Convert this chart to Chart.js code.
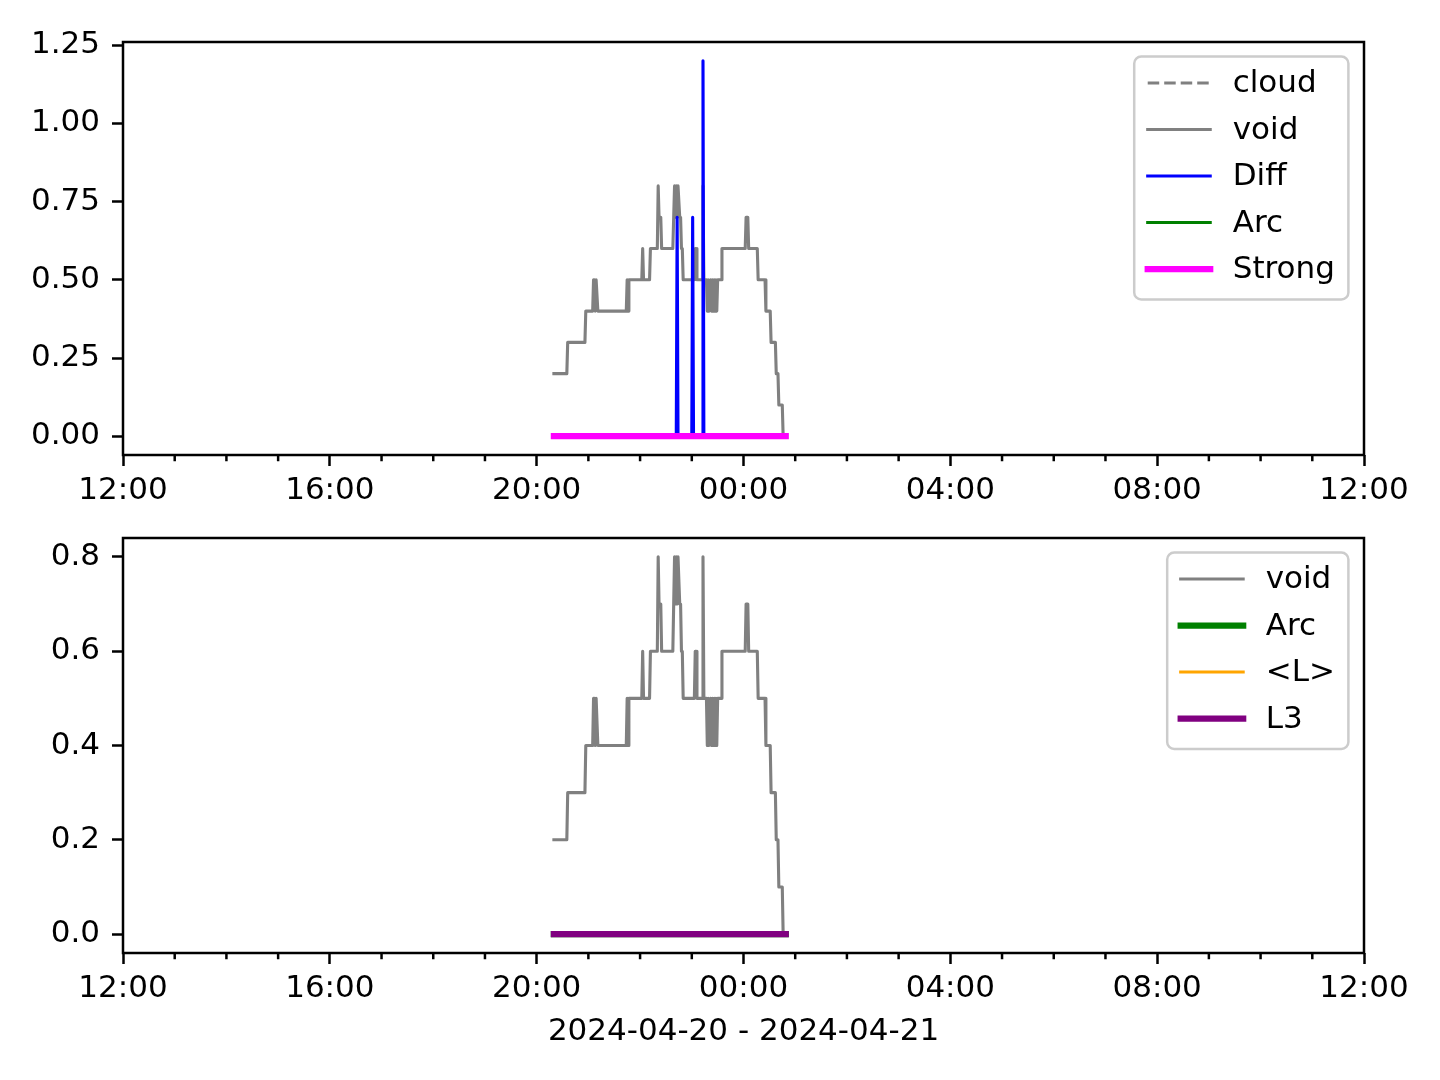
<!DOCTYPE html>
<html>
<head>
<meta charset="utf-8">
<script src="https://cdn.jsdelivr.net/npm/chart.js@4.4.0/dist/chart.umd.min.js"></script>
<style>
body { margin: 0; background: #fff; }
#wrap { position: relative; width: 1440px; height: 1080px; }
canvas { position: absolute; left: 0; }
</style>
</head>
<body>
<div id="wrap">
  <canvas id="topChart" width="1440" height="520" style="top:0px"></canvas>
  <canvas id="bottomChart" width="1440" height="560" style="top:520px"></canvas>
</div>
<script>
// void (grey) series, time of day -> value
const voidTimes = ['20:20','20:35','20:36','20:56','20:57','21:05','21:06','21:07','21:08','21:09','21:10','21:11',
  '21:44','21:45','21:46','21:47','22:02','22:03','22:04','22:11','22:12','22:20','22:21','22:22','22:24','22:25',
  '22:38','22:39','22:40','22:41','22:42','22:43','22:44','22:45','22:46','22:47','22:48','22:49','22:50',
  '23:03','23:04','23:05','23:06','23:12','23:13','23:14','23:17','23:18','23:19','23:20','23:21','23:22','23:23',
  '23:24','23:25','23:26','23:27','23:28','23:29','23:30','23:34','23:35','00:02','00:03','00:05','00:06',
  '00:16','00:17','00:25','00:26','00:31','00:32','00:37','00:38','00:40','00:41','00:45','00:46','00:49'];
const voidValues = [0.2,0.2,0.3,0.3,0.4,0.4,0.5,0.5,0.4,0.5,0.5,0.4,
  0.4,0.5,0.4,0.5,0.5,0.6,0.5,0.5,0.6,0.6,0.8,0.7,0.7,0.6,
  0.6,0.7,0.8,0.7,0.8,0.7,0.8,0.8,0.7,0.7,0.6,0.6,0.5,
  0.5,0.6,0.6,0.5,0.5,0.8,0.5,0.5,0.4,0.5,0.4,0.4,0.5,0.4,
  0.5,0.4,0.5,0.4,0.5,0.4,0.5,0.5,0.6,0.6,0.7,0.7,0.6,
  0.6,0.5,0.5,0.4,0.4,0.3,0.3,0.2,0.2,0.1,0.1,0.0,0.0];

// Diff (blue) spikes
const diffTimes = ['20:20','22:42','22:43','22:44','23:00','23:01','23:02','23:12','23:13','23:14','00:49'];
const diffValues = [0, 0, 0.7, 0, 0, 0.7, 0, 0, 1.2, 0, 0];

// Arc / Strong / <L> / L3 stay at zero
const flatTimes = ['20:20', '00:49'];
const flatValues = [0, 0];

const xTickLabels = ['12:00','16:00','20:00','00:00','04:00','08:00','12:00'];
const topYTicks = [0, 0.25, 0.5, 0.75, 1.0, 1.25];
const bottomYTicks = [0, 0.2, 0.4, 0.6, 0.8];
const xTitle = '2024-04-20 - 2024-04-21';

const FONT = '"DejaVu Sans"';
const FS = 31;
Chart.defaults.font.family = FONT;
Chart.defaults.font.size = FS;
Chart.defaults.color = '#000';

// minutes after 12:00 on the first day
function toMinutes(t) {
    const [h, m] = t.split(':').map(Number);
    return (h * 60 + m - 720 + 1440) % 1440;
}

function points(times, values) {
    return times.map((t, i) => ({ x: toMinutes(t), y: values[i] }));
}

function line(label, color, width, data, dash) {
    return {
        label: label,
        data: data,
        borderColor: color,
        borderWidth: width,
        borderDash: dash || [],
        borderCapStyle: dash ? 'butt' : 'square',
        borderJoinStyle: 'round',
        pointRadius: 0,
        fill: false,
        tension: 0
    };
}

// frame, minor ticks and a matplotlib style legend
const mplStyle = {
    id: 'mplStyle',
    afterDraw(chart) {
        const { ctx, chartArea: a, scales } = chart;
        ctx.save();
        ctx.strokeStyle = '#000';
        ctx.lineWidth = 2.5;
        for (let v = 60; v < 1440; v += 60) {
            if (v % 240 === 0) continue;
            const x = scales.x.getPixelForValue(v);
            ctx.beginPath();
            ctx.moveTo(x, a.bottom);
            ctx.lineTo(x, a.bottom + 6.25);
            ctx.stroke();
        }
        ctx.strokeRect(a.left, a.top, a.right - a.left, a.bottom - a.top);

        // legend
        const sets = chart.data.datasets;
        ctx.font = FS + 'px ' + FONT;
        let maxW = 0;
        sets.forEach(d => { maxW = Math.max(maxW, ctx.measureText(d.label).width); });
        const w = 12 + 62.5 + 25 + maxW + 12.5;
        const h = sets.length * 46.5 + 10.5;
        const left = a.right - 15.6 - w;
        const top = a.top + 14.5;
        ctx.beginPath();
        ctx.roundRect(left, top, w, h, 7);
        ctx.fillStyle = 'rgba(255,255,255,0.8)';
        ctx.fill();
        ctx.strokeStyle = '#cccccc';
        ctx.lineWidth = 2.5;
        ctx.stroke();
        sets.forEach((d, i) => {
            const y = top + 26.5 + i * 46.5;
            ctx.beginPath();
            ctx.strokeStyle = d.borderColor;
            ctx.lineWidth = d.borderWidth;
            ctx.lineCap = d.borderCapStyle;
            ctx.setLineDash(d.borderDash);
            ctx.moveTo(left + 13.5, y);
            ctx.lineTo(left + 13.5 + 62.5, y);
            ctx.stroke();
            ctx.setLineDash([]);
            ctx.fillStyle = '#000';
            ctx.textBaseline = 'middle';
            ctx.textAlign = 'left';
            ctx.fillText(d.label, left + 98.5, y + 1);
        });
        ctx.restore();
    }
};

function makeChart(id, datasets, yMin, yMax, yTicks, decimals, xHeight, title) {
    const ctx = document.getElementById(id).getContext('2d');
    datasets.forEach((d, i) => { d.order = datasets.length - i; });
    return new Chart(ctx, {
        type: 'line',
        data: { datasets: datasets },
        options: {
            responsive: false,
            animation: false,
            devicePixelRatio: 1,
            layout: { padding: { top: id === 'topChart' ? 42 : 18, right: 76, left: 0, bottom: 0 } },
            plugins: { legend: { display: false }, tooltip: { enabled: false } },
            scales: {
                x: {
                    type: 'linear',
                    min: 0,
                    max: 1440,
                    afterBuildTicks: s => { s.ticks = xTickLabels.map((_, i) => ({ value: i * 240 })); },
                    afterFit: s => { s.height = xHeight; s.paddingLeft = 0; s.paddingRight = 0; },
                    ticks: {
                        autoSkip: false,
                        maxRotation: 0,
                        padding: 6,
                        callback: v => xTickLabels[Math.round(v / 240)]
                    },
                    grid: { drawOnChartArea: false, tickLength: 11, tickWidth: 2.5, tickColor: '#000' },
                    border: { display: false },
                    title: {
                        display: !!title,
                        text: title || '',
                        font: { size: FS },
                        padding: { top: 0, bottom: 29 }
                    }
                },
                y: {
                    min: yMin,
                    max: yMax,
                    afterBuildTicks: s => { s.ticks = yTicks.map(v => ({ value: v })); },
                    afterFit: s => { s.width = 123; s.paddingTop = 0; s.paddingBottom = 0; },
                    ticks: { padding: 12, callback: v => v.toFixed(decimals) },
                    grid: { drawOnChartArea: false, tickLength: 11, tickWidth: 2.5, tickColor: '#000' },
                    border: { display: false }
                }
            }
        },
        plugins: [mplStyle]
    });
}

makeChart('topChart', [
    line('cloud', '#808080', 3.1, [], [11.5, 5]),
    line('void', '#808080', 3.1, points(voidTimes, voidValues)),
    line('Diff', '#0000ff', 3.1, points(diffTimes, diffValues)),
    line('Arc', '#008000', 3.1, points(flatTimes, flatValues)),
    line('Strong', '#ff00ff', 6.25, points(flatTimes, flatValues))
], -0.06, 1.26, topYTicks, 2, 65, null);

makeChart('bottomChart', [
    line('void', '#808080', 3.1, points(voidTimes, voidValues)),
    line('Arc', '#008000', 6.25, points(flatTimes, flatValues)),
    line('<L>', '#ffa500', 3.1, points(flatTimes, flatValues)),
    line('L3', '#800080', 6.25, points(flatTimes, flatValues))
], -0.04, 0.84, bottomYTicks, 1, 127, xTitle);
</script>
</body>
</html>
